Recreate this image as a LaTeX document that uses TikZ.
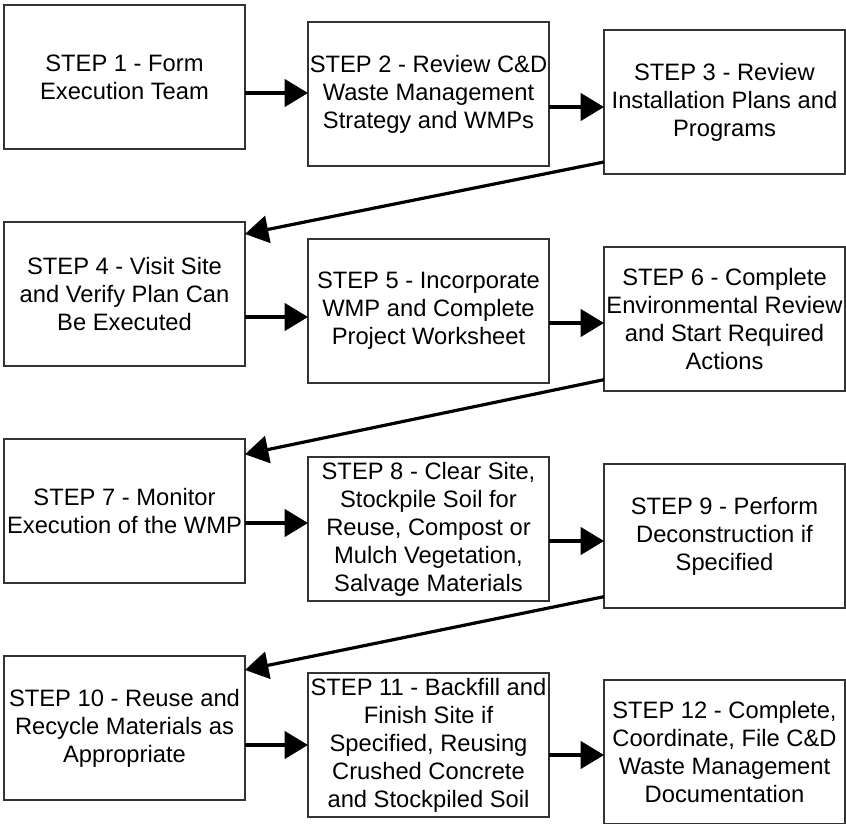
\documentclass[tikz,border=0pt]{standalone}
\usepackage{fontspec}
\setmainfont{Liberation Sans}
\usetikzlibrary{arrows.meta}
\tikzset{
  stepbox/.style={draw=black!80,line width=0.8pt,outer sep=0pt,inner sep=0pt,
    minimum width=180.75pt,minimum height=108pt,anchor=north west,align=center,
    font=\fontsize{17.8}{21}\selectfont,text=black},
  flow/.style={line width=2.4pt,-{Triangle[length=17.5pt,width=20.5pt]}}
}
\begin{document}
\begin{tikzpicture}[x=0.75pt,y=-0.75pt]
\useasboundingbox(0,0) rectangle (846,824);
%
\node[stepbox](s1) at (4,5){STEP 1 - Form\\Execution Team};
\node[stepbox](s2) at (308,22){STEP 2 - Review C\&D\\Waste Management\\Strategy and WMPs};
\node[stepbox](s3) at (604,30){STEP 3 - Review\\Installation Plans and\\Programs};
%
\node[stepbox](s4) at (4,222){STEP 4 - Visit Site\\and Verify Plan Can\\Be Executed};
\node[stepbox](s5) at (308,239){STEP 5 - Incorporate\\WMP and Complete\\Project Worksheet};
\node[stepbox](s6) at (604,247){STEP 6 - Complete\\Environmental Review\\and Start Required\\Actions};
%
\node[stepbox](s7) at (4,439){STEP 7 - Monitor\\Execution of the WMP};
\node[stepbox](s8) at (308,457){STEP 8 - Clear Site,\\Stockpile Soil for\\Reuse, Compost or\\Mulch Vegetation,\\Salvage Materials};
\node[stepbox](s9) at (604,464){STEP 9 - Perform\\Deconstruction if\\Specified};
%
\node[stepbox](s10) at (4,656){STEP 10 - Reuse and\\Recycle Materials as\\Appropriate};
\node[stepbox](s11) at (308,673){STEP 11 - Backfill and\\Finish Site if\\Specified, Reusing\\Crushed Concrete\\and Stockpiled Soil};
\node[stepbox](s12) at (604,680){STEP 12 - Complete,\\Coordinate, File C\&D\\Waste Management\\Documentation};
%
\draw[flow](s1.east |- 0,93)--(s2.west |- 0,93);
\draw[flow](s2.east |- 0,107)--(s3.west |- 0,107);
\draw[flow](s4.east |- 0,317)--(s5.west |- 0,317);
\draw[flow](s5.east |- 0,323)--(s6.west |- 0,323);
\draw[flow](s7.east |- 0,523)--(s8.west |- 0,523);
\draw[flow](s8.east |- 0,541)--(s9.west |- 0,541);
\draw[flow](s10.east |- 0,745)--(s11.west |- 0,745);
\draw[flow](s11.east |- 0,755)--(s12.west |- 0,755);
%
\draw[flow]([yshift=9pt]s3.south west)--([yshift=-9pt]s4.north east);
\draw[flow]([yshift=8.5pt]s6.south west)--([yshift=-11.5pt]s7.north east);
\draw[flow]([yshift=8.5pt]s9.south west)--([yshift=-10.5pt]s10.north east);
\end{tikzpicture}
\end{document}
